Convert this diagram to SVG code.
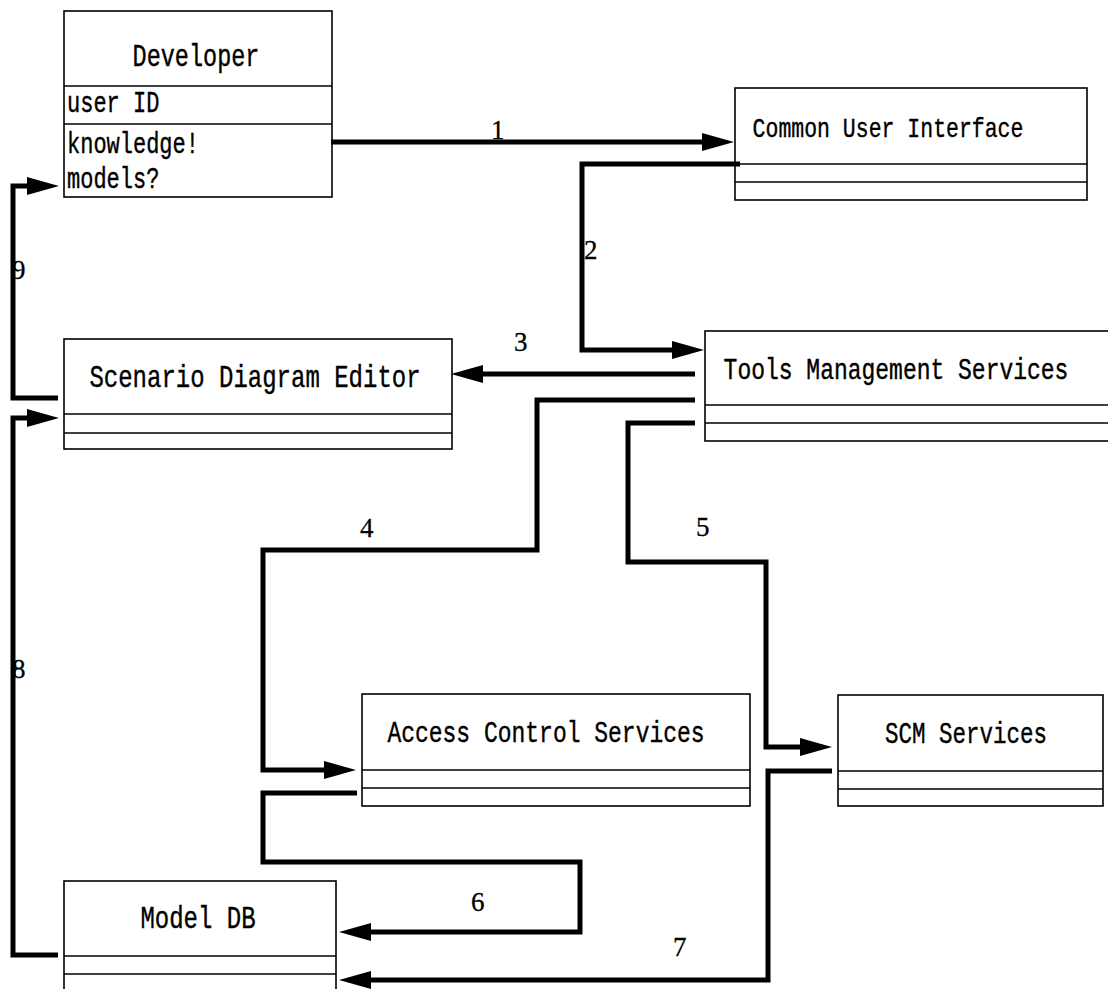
<svg xmlns="http://www.w3.org/2000/svg" width="1108" height="989" viewBox="0 0 1108 989">
  <defs>
    <marker id="head" markerUnits="userSpaceOnUse" markerWidth="34" markerHeight="20" refX="1" refY="9" orient="auto" overflow="visible">
      <path d="M0,0 L32,9 L0,18 Z" fill="#000"/>
    </marker>
    <style>
      .box { fill: #fff; stroke: #000; stroke-width: 1.6; }
      .div { stroke: #000; stroke-width: 1.6; fill: none; }
      .name { font-family: "Liberation Mono", "DejaVu Sans Mono", monospace; font-size: 23px; fill: #000; stroke: #000; stroke-width: 0.3; }
      .attr { font-family: "Liberation Mono", "DejaVu Sans Mono", monospace; font-size: 22px; fill: #000; stroke: #000; stroke-width: 0.3; }
      .num { font-family: "Liberation Serif", "DejaVu Serif", serif; font-size: 27px; fill: #000; stroke: #000; stroke-width: 0.3; }
      .flow { fill: none; stroke: #000; stroke-width: 5; stroke-linejoin: miter; marker-end: url(#head); }
    </style>
  </defs>
  <rect width="1108" height="989" fill="#fff"/>

  <!-- class boxes -->
  <g id="developer">
    <rect class="box" x="64" y="11" width="268" height="186"/>
    <line class="div" x1="64" y1="86" x2="332" y2="86"/>
    <line class="div" x1="64" y1="124" x2="332" y2="124"/>
    <text class="name" text-anchor="middle" transform="translate(196,66) scale(1,1.3)" style="font-size:23.5px">Developer</text>
    <text class="attr" transform="translate(67,112) scale(1,1.3)">user ID</text>
    <text class="attr" transform="translate(67,153) scale(1,1.3)">knowledge!</text>
    <text class="attr" transform="translate(67,188) scale(1,1.3)">models?</text>
  </g>

  <g id="common-user-interface">
    <rect class="box" x="735" y="88" width="352" height="112"/>
    <line class="div" x1="735" y1="164" x2="1087" y2="164"/>
    <line class="div" x1="735" y1="182" x2="1087" y2="182"/>
    <text class="name" text-anchor="middle" transform="translate(888,137) scale(1,1.3)" style="font-size:21.5px">Common User Interface</text>
  </g>

  <g id="tools-management-services">
    <rect class="box" x="705" y="331" width="420" height="110"/>
    <line class="div" x1="705" y1="405" x2="1125" y2="405"/>
    <line class="div" x1="705" y1="423" x2="1125" y2="423"/>
    <text class="name" text-anchor="middle" transform="translate(896,379) scale(1,1.3)">Tools Management Services</text>
  </g>

  <g id="scenario-diagram-editor">
    <rect class="box" x="64" y="339" width="388" height="110"/>
    <line class="div" x1="64" y1="414" x2="452" y2="414"/>
    <line class="div" x1="64" y1="433" x2="452" y2="433"/>
    <text class="name" text-anchor="middle" transform="translate(255,387) scale(1,1.3)" style="font-size:24px">Scenario Diagram Editor</text>
  </g>

  <g id="access-control-services">
    <rect class="box" x="362" y="694" width="388" height="112"/>
    <line class="div" x1="362" y1="770" x2="750" y2="770"/>
    <line class="div" x1="362" y1="788" x2="750" y2="788"/>
    <text class="name" text-anchor="middle" transform="translate(546,742) scale(1,1.3)">Access Control Services</text>
  </g>

  <g id="scm-services">
    <rect class="box" x="838" y="695" width="265" height="111"/>
    <line class="div" x1="838" y1="771" x2="1103" y2="771"/>
    <line class="div" x1="838" y1="789" x2="1103" y2="789"/>
    <text class="name" text-anchor="middle" transform="translate(966,743) scale(1,1.3)" style="font-size:22.5px">SCM Services</text>
  </g>

  <g id="model-db">
    <rect class="box" x="64" y="881" width="272" height="130"/>
    <line class="div" x1="64" y1="956" x2="336" y2="956"/>
    <line class="div" x1="64" y1="974" x2="336" y2="974"/>
    <text class="name" text-anchor="middle" transform="translate(198,928) scale(1,1.3)" style="font-size:24px">Model DB</text>
  </g>

  <!-- numbered message flows -->
  <g id="connectors">
    <path class="flow" d="M331,142 H703"/>
    <path class="flow" d="M740,164 H582 V350 H673"/>
    <path class="flow" d="M695,374 H482"/>
    <path class="flow" d="M695,400 H537 V550 H263 V770 H325"/>
    <path class="flow" d="M695,423 H628 V562 H766 V747 H801"/>
    <path class="flow" d="M357,793 H263 V862 H580 V932 H370"/>
    <path class="flow" d="M832,771 H768 V980 H370"/>
    <path class="flow" d="M58,955 H13 V418 H28"/>
    <path class="flow" d="M58,398 H13 V186 H28"/>

    <text class="num" x="491" y="139">1</text>
    <text class="num" x="584" y="259">2</text>
    <text class="num" x="514" y="351">3</text>
    <text class="num" x="360" y="537">4</text>
    <text class="num" x="696" y="536">5</text>
    <text class="num" x="471" y="911">6</text>
    <text class="num" x="673" y="956">7</text>
    <text class="num" x="12" y="678">8</text>
    <text class="num" x="12" y="279">9</text>
  </g>
</svg>
